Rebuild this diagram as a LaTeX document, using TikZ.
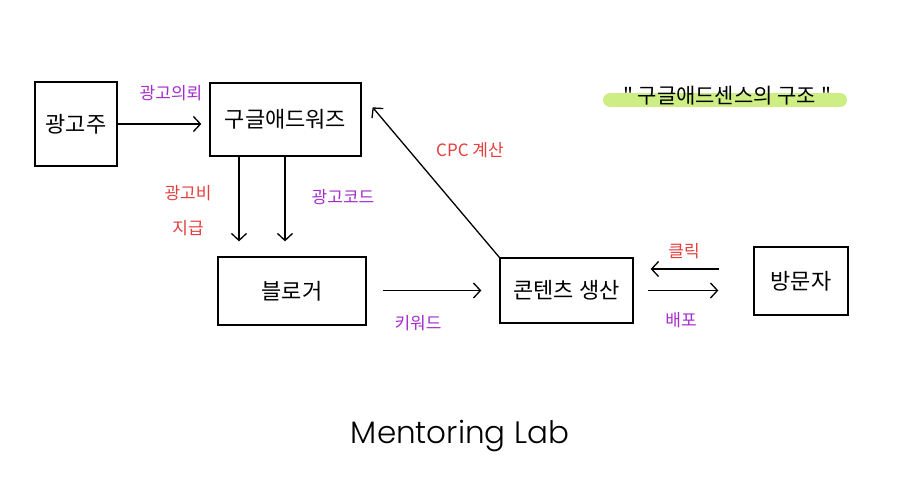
\documentclass[tikz,border=0pt]{standalone}
\usepackage{fontspec}
\setmainfont{Noto Sans CJK KR}
\newfontfamily\mlfont{Poppins}[UprightFont=* Light]
\usetikzlibrary{arrows.meta,calc}
\definecolor{lblpurple}{RGB}{165,45,205}
\definecolor{lblred}{RGB}{228,62,62}
\definecolor{hlgreen}{RGB}{205,238,130}
\tikzset{
  box/.style={draw=black, line width=1.3pt, inner sep=0pt, font=\fontsize{22}{26}\selectfont},
  arr/.style={line width=1.3pt, -{Straight Barb[length=7pt,width=15pt,line width=1.3pt]}},
  lbl/.style={inner sep=0pt, font=\fontsize{17}{20}\selectfont},
  pur/.style={lbl, text=lblpurple},
  rd/.style={lbl, text=lblred}
}
\begin{document}
\begin{tikzpicture}[x=1pt,y=-1pt]
\useasboundingbox (0,0) rectangle (918,498);
% boxes
\node[box, minimum width=82pt, minimum height=84pt] (a) at (76,124) {광고주};
\node[box, minimum width=151pt, minimum height=73pt] (g) at (285.5,119.5) {구글애드워즈};
\node[box, minimum width=148pt, minimum height=68pt] (b) at (292,291) {블로거};
\node[box, minimum width=133pt, minimum height=65pt] (c) at (566.5,290.5) {콘텐츠 생산};
\node[box, minimum width=94pt, minimum height=68pt] (v) at (801,281) {방문자};
% connectors
\draw[arr, shorten >=8pt] (a.east) -- (a.east -| g.west);
\draw[arr, shorten >=15pt] ([xshift=-46.5pt]g.south) -- ([xshift=-53pt]b.north);
\draw[arr, shorten >=15pt] ([xshift=-0.5pt]g.south) -- ([xshift=-7pt]b.north);
\draw[arr, shorten <=16pt, shorten >=18pt] (b.east |- c.west) -- (c.west);
\draw[arr, shorten >=17pt] (c.north west) -- ([yshift=-12pt]g.north east);
\draw[arr, shorten <=34pt, shorten >=17pt] ($(v.west |- c.east)+(0,-21.5)$) -- ($(c.east)+(0,-21.5)$);
\draw[arr, shorten <=14pt, shorten >=35pt] (c.east) -- (v.west |- c.east);
% labels
\node[pur] (l1) at (171,93) {광고의뢰};
\node[rd] (l2a) at (188,193) {광고비};
\node[rd] (l2b) at (188,228) {지급};
\node[pur] (l3) at (343,197) {광고코드};
\node[pur] (l4) at (418,323) {키워드};
\node[rd] (l5) at (470,150) {CPC 계산};
\node[rd] (l6) at (684,251) {클릭};
\node[pur] (l7) at (681,320) {배포};
% title
\draw[hlgreen, line width=14pt, line cap=round] (610,100) -- (840,100);
\node[inner sep=0pt, font=\fontsize{21}{24}\selectfont] (t) at (727,96) {\textquotedbl\ 구글애드센스의 구조 \textquotedbl};
% footer
\node[inner sep=0pt, font=\mlfont\fontsize{31}{35}\selectfont] (m) at (460,436) {Mentoring Lab};
\end{tikzpicture}
\end{document}
